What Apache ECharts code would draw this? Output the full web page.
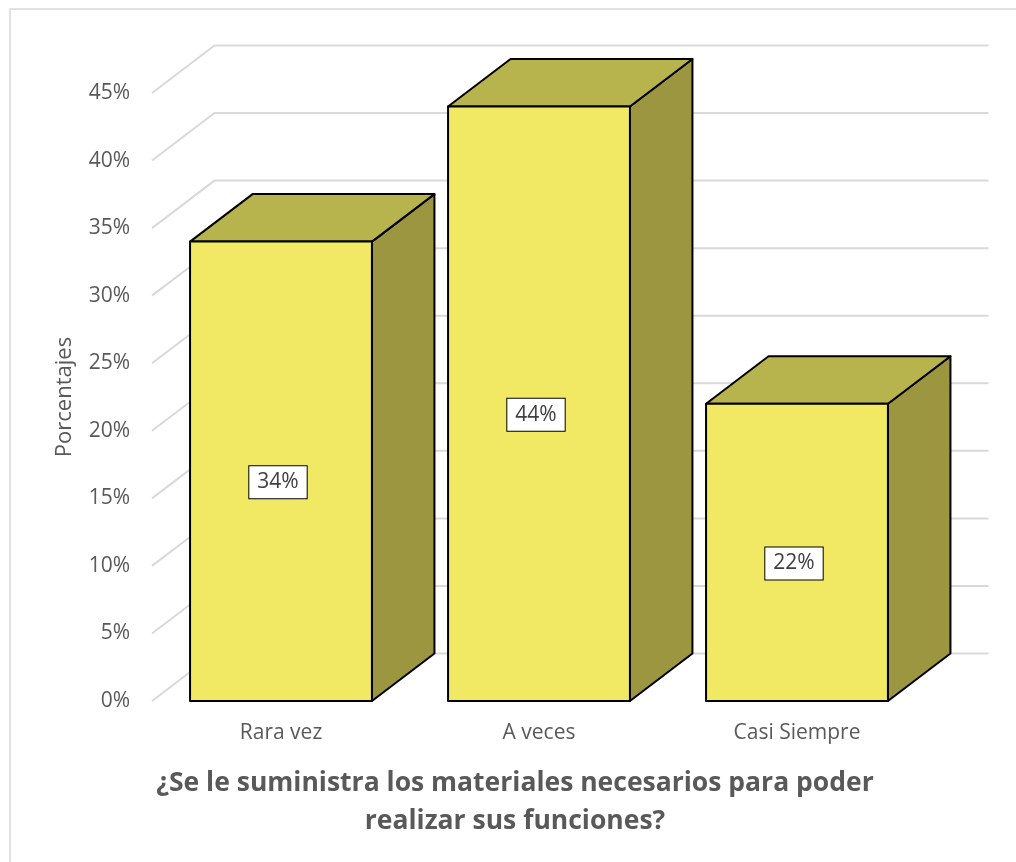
<!DOCTYPE html>
<html>
<head>
<meta charset="utf-8">
<title>Porcentajes</title>
<script src="https://cdn.jsdelivr.net/npm/echarts@6/dist/echarts.min.js"></script>
<style>
  html, body { margin: 0; padding: 0; background: #ffffff; }
  #chart { width: 1016px; height: 862px; }
</style>
</head>
<body>
<div id="chart"></div>
<script>
// Survey answers and their share of respondents (%)
const categories = ['Rara vez', 'A veces', 'Casi Siempre'];
const percentages = [34, 44, 22];
const yTicks = [0, 5, 10, 15, 20, 25, 30, 35, 40, 45];
const chartTitle = '¿Se le suministra los materiales necesarios para poder\nrealizar sus funciones?';
const axisName = 'Porcentajes';

// Oblique depth of the 3D projection, in pixels
const DEPTH_X = 62.5;
const DEPTH_Y = -47.5;
const BAR_RATIO = 0.705;

const FONT = '"Open Sans", "Noto Sans", sans-serif';
const FRONT = '#F1E964';
const TOP = '#B7B34D';
const SIDE = '#9B963F';

const chart = echarts.init(document.getElementById('chart'));

// Wall/floor gridlines: diagonal from the front plane back, then across the back wall
function renderGrid(params, api) {
  const cs = params.coordSys;
  const y = api.coord([0, api.value(1)])[1];
  return {
    type: 'polyline',
    shape: {
      points: [
        [cs.x, y],
        [cs.x + DEPTH_X, y + DEPTH_Y],
        [cs.x + cs.width + DEPTH_X, y + DEPTH_Y]
      ]
    },
    style: { stroke: '#D9D9D9', lineWidth: 2, fill: null }
  };
}

// Each bar as a box: front face, top face, right side face, plus a boxed value label
function renderBox(params, api) {
  const idx = api.value(0);
  const val = api.value(1);
  const base = api.coord([idx, 0]);
  const top = api.coord([idx, val]);
  const w = api.size([1, 0])[0] * BAR_RATIO;
  const x0 = base[0] - w / 2;
  const x1 = base[0] + w / 2;
  const yb = base[1];
  const yt = top[1];
  const edge = { stroke: '#000000', lineWidth: 2, lineJoin: 'round' };
  return {
    type: 'group',
    children: [
      {
        type: 'polygon',
        shape: { points: [[x1, yt], [x1 + DEPTH_X, yt + DEPTH_Y], [x1 + DEPTH_X, yb + DEPTH_Y], [x1, yb]] },
        style: Object.assign({ fill: SIDE }, edge)
      },
      {
        type: 'polygon',
        shape: { points: [[x0, yt], [x0 + DEPTH_X, yt + DEPTH_Y], [x1 + DEPTH_X, yt + DEPTH_Y], [x1, yt]] },
        style: Object.assign({ fill: TOP }, edge)
      },
      {
        type: 'rect',
        shape: { x: x0, y: yt, width: w, height: yb - yt },
        style: Object.assign({ fill: FRONT }, edge)
      },
      {
        type: 'text',
        x: base[0] - 3,
        y: (yb + yt) / 2 + 11,
        style: {
          text: val + '%',
          fill: '#404040',
          font: '21px ' + FONT,
          align: 'center',
          verticalAlign: 'middle',
          backgroundColor: '#ffffff',
          borderColor: '#000000',
          borderWidth: 1,
          padding: [6, 8, 5, 8]
        }
      }
    ]
  };
}

chart.setOption({
  animation: false,
  backgroundColor: '#ffffff',
  graphic: [
    {
      type: 'rect',
      shape: { x: 10, y: 9, width: 1030, height: 880 },
      style: { fill: 'none', stroke: '#D9D9D9', lineWidth: 1.5 },
      silent: true,
      z: -10
    }
  ],
  title: {
    text: chartTitle,
    left: 510,
    top: 759,
    textAlign: 'center',
    textStyle: {
      fontFamily: FONT,
      fontSize: 26.5,
      fontWeight: 'bold',
      color: '#595959',
      lineHeight: 38
    }
  },
  grid: { left: 152, right: 90, top: 93, bottom: 161 },
  xAxis: {
    type: 'category',
    data: categories,
    axisLine: { show: false },
    axisTick: { show: false },
    splitLine: { show: false },
    axisLabel: { color: '#595959', fontFamily: FONT, fontSize: 21, margin: 22 }
  },
  yAxis: {
    type: 'value',
    min: 0,
    max: 45,
    interval: 5,
    name: axisName,
    nameLocation: 'middle',
    nameGap: 76,
    nameTextStyle: { color: '#595959', fontFamily: FONT, fontSize: 22 },
    axisLine: { show: false },
    axisTick: { show: false },
    splitLine: { show: false },
    axisLabel: { color: '#595959', fontFamily: FONT, fontSize: 21, margin: 22, formatter: '{value}%' }
  },
  series: [
    {
      type: 'custom',
      name: 'grid',
      renderItem: renderGrid,
      data: yTicks.map(v => [0, v]),
      encode: { x: 0, y: 1 },
      clip: false,
      silent: true,
      z: 1
    },
    {
      type: 'custom',
      name: axisName,
      renderItem: renderBox,
      data: percentages.map((v, i) => [i, v]),
      encode: { x: 0, y: 1 },
      clip: false,
      z: 2
    }
  ]
});
</script>
</body>
</html>
